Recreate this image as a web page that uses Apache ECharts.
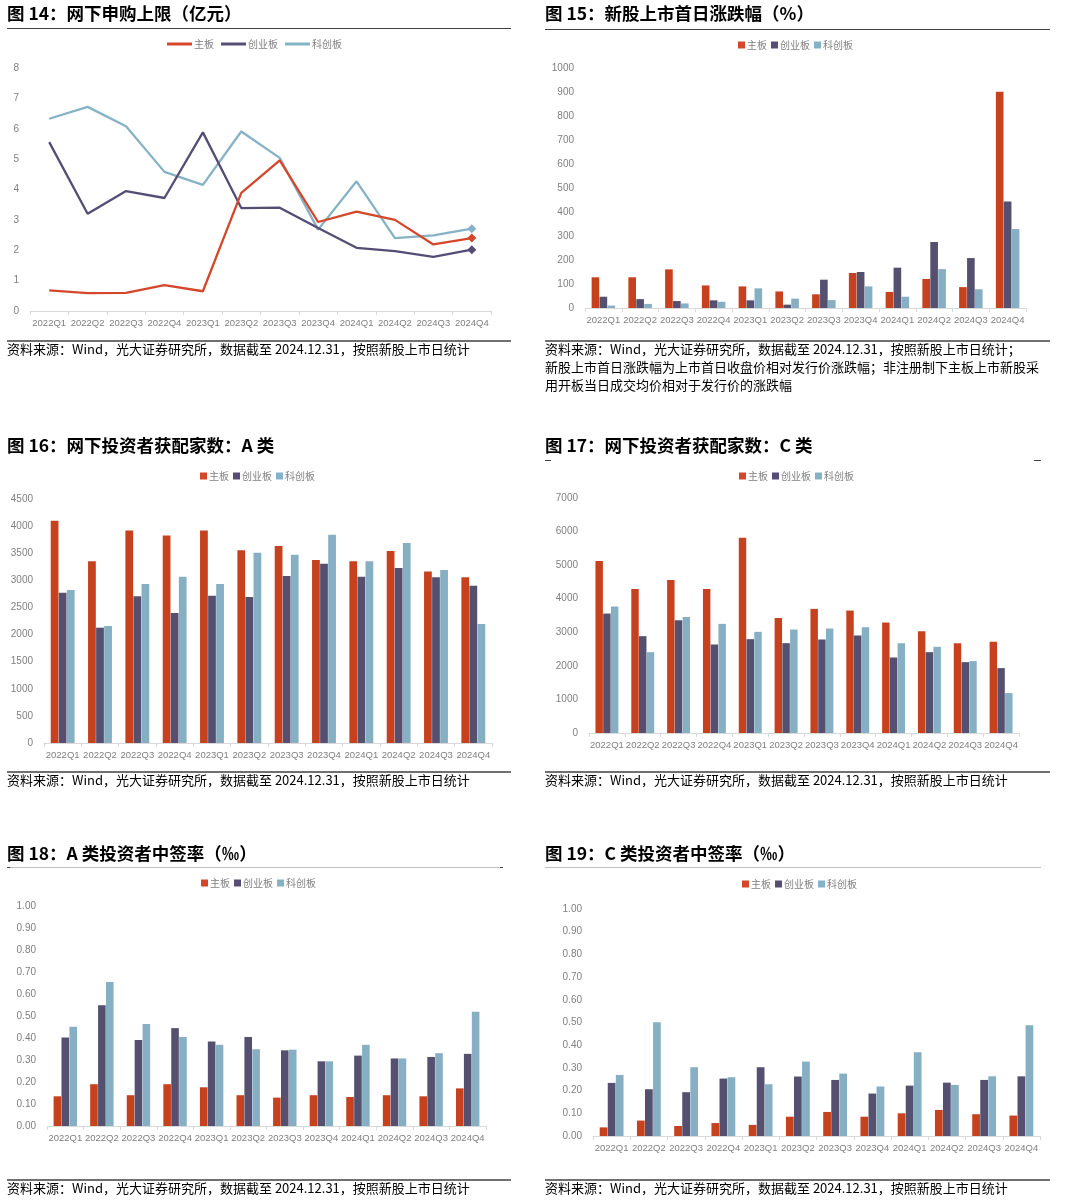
<!DOCTYPE html>
<html>
<head>
<meta charset="utf-8">
<script src="https://cdn.jsdelivr.net/npm/echarts@6/dist/echarts.min.js"></script>
<style>
html,body{margin:0;padding:0;background:#fff;}
#c{width:1066px;height:1200px;}
</style>
</head>
<body>
<div id="c"></div>
<script>
// ---------- data ----------
const quarters = ['2022Q1','2022Q2','2022Q3','2022Q4','2023Q1','2023Q2','2023Q3','2023Q4','2024Q1','2024Q2','2024Q3','2024Q4'];
const boards = ['主板','创业板','科创板'];

// 图14 网下申购上限（亿元）
const limitMain = [0.68,0.59,0.60,0.85,0.65,3.89,4.96,2.93,3.27,3.00,2.19,2.40];
const limitChiNext = [5.56,3.20,3.95,3.72,5.88,3.39,3.40,2.73,2.08,1.97,1.78,2.02];
const limitStar = [6.33,6.72,6.08,4.58,4.15,5.91,5.04,2.68,4.27,2.40,2.49,2.71];

// 图15 新股上市首日涨跌幅（%）
const firstDayMain = [128,128,161,94,90,69,57,146,67,121,87,901];
const firstDayChiNext = [47,37,29,32,32,14,118,150,168,275,208,444];
const firstDayStar = [10,17,19,26,82,39,33,90,47,162,78,329];

// 图16 网下投资者获配家数：A 类
const allocAMain = [4100,3350,3921,3829,3921,3553,3632,3374,3350,3540,3165,3055];
const allocAChiNext = [2772,2127,2705,2397,2717,2692,3079,3307,3067,3227,3055,2901];
const allocAStar = [2821,2157,2932,3067,2932,3510,3473,3841,3350,3688,3190,2194];

// 图17 网下投资者获配家数：C 类
const allocCMain = [5124,4291,4559,4291,5818,3429,3697,3647,3290,3033,2676,2716];
const allocCChiNext = [3558,2884,3360,2636,2795,2676,2785,2904,2250,2408,2111,1933];
const allocCStar = [3766,2408,3459,3251,3013,3082,3112,3152,2676,2567,2141,1189];

// 图18 A 类投资者中签率（‰）
const rateAMain = [0.135,0.190,0.140,0.190,0.176,0.140,0.129,0.140,0.132,0.140,0.135,0.171];
const rateAChiNext = [0.402,0.549,0.391,0.445,0.384,0.405,0.344,0.294,0.320,0.307,0.314,0.328];
const rateAStar = [0.451,0.654,0.464,0.405,0.369,0.349,0.347,0.294,0.369,0.307,0.331,0.519];

// 图19 C 类投资者中签率（‰）
const rateCMain = [0.038,0.068,0.044,0.057,0.049,0.085,0.106,0.085,0.100,0.115,0.096,0.090];
const rateCChiNext = [0.234,0.206,0.193,0.253,0.303,0.262,0.247,0.187,0.222,0.235,0.247,0.263];
const rateCStar = [0.269,0.501,0.303,0.259,0.228,0.328,0.275,0.218,0.369,0.225,0.263,0.488];

const titles = [
  '图 14：网下申购上限（亿元）',
  '图 15：新股上市首日涨跌幅（%）',
  '图 16：网下投资者获配家数：A 类',
  '图 17：网下投资者获配家数：C 类',
  '图 18：A 类投资者中签率（‰）',
  '图 19：C 类投资者中签率（‰）'
];
const sourceText = '资料来源：Wind，光大证券研究所，数据截至 2024.12.31，按照新股上市日统计';
const sourceText15 = '资料来源：Wind，光大证券研究所，数据截至 2024.12.31，按照新股上市日统计；\n新股上市首日涨跌幅为上市首日收盘价相对发行价涨跌幅；非注册制下主板上市新股采\n用开板当日成交均价相对于发行价的涨跌幅';

// ---------- styling / layout ----------
const barColors = ['#C6421F','#55506F','#86AFC3'];
const lineColors = ['#D5472A','#564D75','#86B2C6'];
const CJK = '"Noto Sans CJK SC", sans-serif';
const LAT = '"Liberation Sans", Arial, sans-serif';

const grids = [
  {left:30, top:68, width:461, height:243},
  {left:585, top:68, width:441, height:240},
  {left:44, top:499, width:448, height:244},
  {left:589, top:498, width:430, height:235},
  {left:47, top:906, width:439, height:220},
  {left:593, top:909, width:447, height:227}
];
const yCfg = [
  {max:8, interval:1, dec:0},
  {max:1000, interval:100, dec:0},
  {max:4500, interval:500, dec:0},
  {max:7000, interval:1000, dec:0},
  {max:1, interval:0.1, dec:2},
  {max:1, interval:0.1, dec:2}
];
const legendPos = [
  {left:167, top:39},
  {left:738, top:40},
  {left:200, top:471},
  {left:739, top:471},
  {left:201, top:878},
  {left:742, top:879}
];
const titlePos = [
  {left:7, top:5},{left:545, top:5},
  {left:7, top:437},{left:545, top:437},
  {left:7, top:845},{left:545, top:845}
];

const xAxes = grids.map((g,i)=>({
  type:'category', gridIndex:i, data:quarters, boundaryGap:true,
  axisLine:{lineStyle:{color:'#D9D9D9', width:1}},
  axisTick:{show:true, alignWithLabel:false, length:4, lineStyle:{color:'#D9D9D9'}},
  axisLabel:{interval:0, color:'#7F7F7F', fontSize:9.5, fontFamily:LAT, margin:7}
}));
const yAxes = yCfg.map((c,i)=>({
  type:'value', gridIndex:i, min:0, max:c.max, interval:c.interval,
  axisLine:{show:false}, axisTick:{show:false}, splitLine:{show:false},
  axisLabel:{color:'#7F7F7F', fontSize:10, fontFamily:LAT, margin:11,
    formatter:v=>v.toFixed(c.dec)}
}));

const series = [];
// line chart
[limitMain, limitChiNext, limitStar].forEach((arr,k)=>{
  series.push({
    type:'line', name:boards[k], xAxisIndex:0, yAxisIndex:0,
    symbol:'none', showSymbol:true,
    data:arr.map((v,j)=> j===arr.length-1 ? {value:v, symbol:'diamond', symbolSize:9} : v),
    lineStyle:{width:2.3, color:lineColors[k]},
    itemStyle:{color:lineColors[k]},
    z:10-k
  });
});
const barSets = [
  [firstDayMain, firstDayChiNext, firstDayStar],
  [allocAMain, allocAChiNext, allocAStar],
  [allocCMain, allocCChiNext, allocCStar],
  [rateAMain, rateAChiNext, rateAStar],
  [rateCMain, rateCChiNext, rateCStar]
];
barSets.forEach((set,gi)=>{
  set.forEach((arr,k)=>{
    series.push({
      type:'bar', name:boards[k], xAxisIndex:gi+1, yAxisIndex:gi+1,
      data:arr, barGap:'4%', barCategoryGap:'36%',
      itemStyle:{color:barColors[k]}
    });
  });
});

const legends = legendPos.map((p,i)=>{
  const isLine = i===0;
  return {
    left:p.left, top:p.top, orient:'horizontal', padding:0,
    data: boards.map(b=>({name:b, icon:'rect'})),
    itemWidth: isLine?25:7, itemHeight: isLine?3:7,
    itemGap: isLine?7:4,
    textStyle:{color:'#7F7F7F', fontSize:10, fontFamily:CJK, padding:[0,0,0,-3]},
    selectedMode:false
  };
});

const titleOpts = titles.map((t,i)=>({
  text:t, left:titlePos[i].left, top:titlePos[i].top, padding:0,
  textStyle:{fontSize:17.5, fontWeight:'bold', color:'#000', fontFamily:CJK}
}));

function hline(x1,x2,y,color,w){
  return {type:'line', silent:true, shape:{x1:x1,y1:y,x2:x2,y2:y}, style:{stroke:color, lineWidth:w}};
}
function srcText(x,y,t){
  return {type:'text', left:x, top:y, silent:true,
    style:{text:t, fill:'#000', font:'13px "Noto Sans CJK SC"', lineHeight:18}};
}
const graphics = [
  hline(7,511,28.5,'#404040',1),
  hline(545,1050,29.5,'#404040',1),
  hline(7,511,341,'#404040',1.3),
  hline(545,1050,341,'#404040',1.3),
  hline(545,551,460.5,'#404040',1),
  hline(1034,1041,460.5,'#404040',1),
  hline(7,511,772,'#404040',1.3),
  hline(545,1050,772,'#404040',1.3),
  hline(7,503,867.5,'#BFBFBF',1),
  hline(7,10,867.5,'#404040',1),
  hline(500,503,867.5,'#404040',1),
  hline(545,1041,867.5,'#BFBFBF',1),
  hline(7,511,1180,'#404040',1.3),
  hline(545,1050,1180,'#404040',1.3),
  srcText(7,340,sourceText),
  srcText(545,340,sourceText15),
  srcText(7,771,sourceText),
  srcText(545,771,sourceText),
  srcText(7,1179,sourceText),
  srcText(545,1179,sourceText)
];

const chart = echarts.init(document.getElementById('c'), null, {renderer:'canvas'});
chart.setOption({
  animation:false,
  backgroundColor:'#ffffff',
  title:titleOpts,
  legend:legends,
  grid:grids.map(g=>Object.assign({containLabel:false}, g)),
  xAxis:xAxes,
  yAxis:yAxes,
  series:series,
  graphic:graphics
});
</script>
</body>
</html>
